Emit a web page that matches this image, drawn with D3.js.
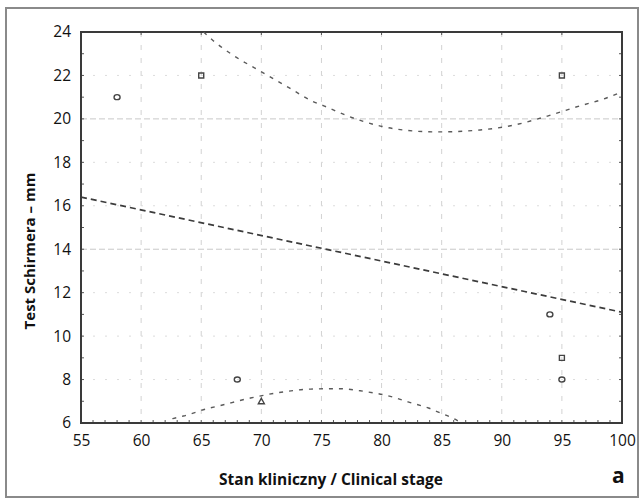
<!DOCTYPE html>
<html><head><meta charset="utf-8">
<script src="https://cdn.jsdelivr.net/npm/d3@7"></script>
<style>body{margin:0;background:#fff}svg{display:block}</style>
</head><body>
<script>
const xTicks = [55,60,65,70,75,80,85,90,95,100];
const yTicks = [6,8,10,12,14,16,18,20,22,24];
const points = [
  {x:58,y:21,shape:"circle"},
  {x:65,y:22,shape:"square"},
  {x:68,y:8,shape:"circle"},
  {x:70,y:7,shape:"triangle"},
  {x:94,y:11,shape:"circle"},
  {x:95,y:22,shape:"square"},
  {x:95,y:9,shape:"square"},
  {x:95,y:8,shape:"circle"}
];
const regression = [[55,16.4],[100,11.1]];
const upperBand = [[65.2,24],[66,23.6],[67.6,22.95],[69.9,22.2],[72.4,21.4],[74.3,20.8],[75.2,20.6],[77.2,20.13],[79.9,19.67],[81.8,19.49],[84.6,19.4],[88.2,19.49],[90.9,19.7],[93.8,20.13],[96.5,20.6],[98.4,20.9],[100,21.25]];
const lowerBand = [[62.6,6.2],[63.5,6.32],[65.7,6.69],[66.4,6.78],[69.1,7.15],[71.8,7.43],[74.1,7.56],[76.5,7.58],[78.5,7.46],[80.9,7.2],[82.2,6.97],[83.9,6.69],[84.9,6.46],[85.9,6.23],[86.5,6.05]];

const W=640,H=499;
const L=81,R=622,T=32,B=423;
const svg=d3.select("body").append("svg").attr("width",W).attr("height",H);
svg.append("rect").attr("x",6).attr("y",8).attr("width",632).attr("height",489)
  .attr("fill","none").attr("stroke","#8a8a8a").attr("stroke-width",2);

const x=d3.scaleLinear().domain([55,100]).range([L,R]);
const y=d3.scaleLinear().domain([6,24]).range([B,T]);

// grid
const g=svg.append("g");
g.selectAll("line.vx").data(xTicks.slice(1,-1)).join("line")
  .attr("x1",d=>x(d)).attr("x2",d=>x(d)).attr("y1",T).attr("y2",B)
  .attr("stroke","#d2d2d2").attr("stroke-width",1).attr("stroke-dasharray","5,8");
g.selectAll("line.hy").data(yTicks.slice(1,-1)).join("line")
  .attr("x1",L).attr("x2",R).attr("y1",d=>y(d)).attr("y2",d=>y(d))
  .attr("stroke",d=>(d===20||d===14)?"#c8c8c8":"#dcdcdc").attr("stroke-width",1)
  .attr("stroke-dasharray",d=>(d===20||d===14)?"6,3":"2,10");

// minor ticks
const minorY=d3.range(6,24.01,1), minorX=d3.range(55,100.01,1);
svg.append("g").selectAll("line").data(minorY).join("line")
  .attr("x1",L).attr("x2",L+3).attr("y1",d=>y(d)).attr("y2",d=>y(d)).attr("stroke","#555");
svg.append("g").selectAll("line").data(minorY).join("line")
  .attr("x1",R-3).attr("x2",R).attr("y1",d=>y(d)).attr("y2",d=>y(d)).attr("stroke","#555");
svg.append("g").selectAll("line").data(minorX).join("line")
  .attr("x1",d=>x(d)).attr("x2",d=>x(d)).attr("y1",B-3).attr("y2",B).attr("stroke","#555");
svg.append("g").selectAll("line").data(xTicks).join("line")
  .attr("x1",d=>x(d)).attr("x2",d=>x(d)).attr("y1",T).attr("y2",T+3).attr("stroke","#555");

// frame
svg.append("rect").attr("x",L).attr("y",T).attr("width",R-L).attr("height",B-T)
  .attr("fill","none").attr("stroke","#3a3a3a").attr("stroke-width",2);

// axes labels via d3 axes
const fnt="'Open Sans', 'Noto Sans', sans-serif";
const xa=svg.append("g").attr("transform",`translate(0,${B})`)
  .call(d3.axisBottom(x).tickValues(xTicks).tickSize(0).tickPadding(12).tickFormat(d3.format("d")));
xa.select(".domain").remove();
xa.selectAll("text").attr("font-family",fnt).attr("font-size",15.5).attr("fill","#111");
const ya=svg.append("g").attr("transform",`translate(${L},0)`)
  .call(d3.axisLeft(y).tickValues(yTicks).tickSize(0).tickPadding(10).tickFormat(d3.format("d")));
ya.select(".domain").remove();
ya.selectAll("text").attr("font-family",fnt).attr("font-size",15.5).attr("fill","#111");

// lines
svg.append("clipPath").attr("id","c").append("rect").attr("x",L).attr("y",T).attr("width",R-L).attr("height",B-T);
const line=d3.line().x(d=>x(d[0])).y(d=>y(d[1])).curve(d3.curveMonotoneX);
const lg=svg.append("g").attr("clip-path","url(#c)");
lg.append("path").datum(regression).attr("d",line).attr("fill","none")
  .attr("stroke","#3c3c3c").attr("stroke-width",1.7).attr("stroke-dasharray","6,4");
lg.append("path").datum(upperBand).attr("d",line).attr("fill","none")
  .attr("stroke","#5a5a5a").attr("stroke-width",1.4).attr("stroke-dasharray","4,6");
lg.append("path").datum(lowerBand).attr("d",line).attr("fill","none")
  .attr("stroke","#5a5a5a").attr("stroke-width",1.4).attr("stroke-dasharray","4,6");

// points
const pg=svg.append("g").attr("fill","none").attr("stroke","#444").attr("stroke-width",1.4);
pg.selectAll("path").data(points).join("path")
  .attr("transform",d=>`translate(${x(d.x)},${y(d.y)})`)
  .attr("d",d=>{
    if(d.shape==="circle") return "M-3,0a3,2.5 0 1,0 6,0a3,2.5 0 1,0 -6,0";
    if(d.shape==="square") return "M-2.5,-2.5h5v5h-5z";
    return "M0,-3L3,2.5H-3Z";
  });

// titles
svg.append("text").attr("x",331).attr("y",485).attr("text-anchor","middle")
  .attr("font-family",fnt).attr("font-weight","bold").attr("font-size",15.5).attr("fill","#111")
  .text("Stan kliniczny / Clinical stage");
svg.append("text").attr("transform","translate(35,251) rotate(-90)").attr("text-anchor","middle")
  .attr("font-family",fnt).attr("font-weight","bold").attr("font-size",15).attr("fill","#111")
  .text("Test Schirmera – mm");
svg.append("text").attr("x",612).attr("y",483).attr("font-family",fnt).attr("font-weight","bold")
  .attr("font-size",21).attr("fill","#111").text("a");
</script>
</body></html>
